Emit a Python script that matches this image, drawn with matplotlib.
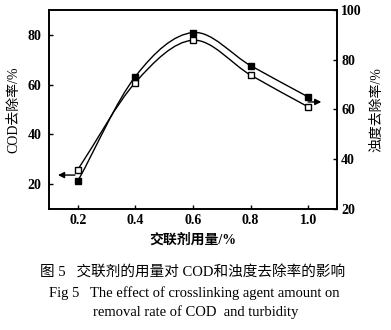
import numpy as np
import matplotlib
matplotlib.use("Agg")
import matplotlib.pyplot as plt
from matplotlib.path import Path
from matplotlib.patches import PathPatch

plt.rcParams['font.family'] = ['Liberation Serif', 'Noto Sans CJK SC', 'DejaVu Sans']

# data
dosage = [0.2, 0.4, 0.6, 0.8, 1.0]
cod_removal = [25.7, 60.8, 77.8, 63.8, 51.0]        # open squares, left axis
turbidity_removal = [31.1, 73.2, 90.9, 77.6, 65.0]  # filled squares, right axis
left_ticks = [20, 40, 60, 80]
right_ticks = [20, 40, 60, 80, 100]
x_ticks = [0.2, 0.4, 0.6, 0.8, 1.0]


def smooth_path(xs, ys):
    # Catmull-Rom through the points, written as cubic Bezier segments
    xs = np.asarray(xs, float)
    ys = np.asarray(ys, float)
    px = np.concatenate([[2 * xs[0] - xs[1]], xs, [2 * xs[-1] - xs[-2]]])
    py = np.concatenate([[2 * ys[0] - ys[1]], ys, [2 * ys[-1] - ys[-2]]])
    verts = [(xs[0], ys[0])]
    codes = [Path.MOVETO]
    for i in range(1, len(px) - 2):
        c1 = (px[i] + (px[i + 1] - px[i - 1]) / 6, py[i] + (py[i + 1] - py[i - 1]) / 6)
        c2 = (px[i + 1] - (px[i + 2] - px[i]) / 6, py[i + 1] - (py[i + 2] - py[i]) / 6)
        verts += [c1, c2, (px[i + 1], py[i + 1])]
        codes += [Path.CURVE4] * 3
    return Path(verts, codes)


fig = plt.figure(figsize=(3.91, 3.30), dpi=100)
ax = fig.add_axes([0.125, 0.367, 0.737, 0.603])
ax2 = ax.twinx()

ax.add_patch(PathPatch(smooth_path(dosage, cod_removal), fill=False, lw=1.0, ec='black'))
ax2.add_patch(PathPatch(smooth_path(dosage, turbidity_removal), fill=False, lw=1.0, ec='black'))
ax.plot(dosage, cod_removal, 's', ms=5, mfc='white', mec='black', mew=1.0, zorder=3)
ax2.plot(dosage, turbidity_removal, 's', ms=5, mfc='black', mec='black', zorder=3)

ax.annotate('', xy=(0.122, 23.6), xytext=(0.2, 23.6),
            arrowprops=dict(arrowstyle='-|>', lw=1.0, color='black', mutation_scale=9))
ax2.annotate('', xy=(1.055, 63.0), xytext=(0.99, 63.0),
             arrowprops=dict(arrowstyle='-|>', lw=1.0, color='black', mutation_scale=9))

ax.set_xlim(0.1, 1.1)
ax.set_ylim(10, 90)
ax2.set_ylim(20, 100)
ax.set_xticks(x_ticks)
ax.set_xticklabels(['%.1f' % v for v in x_ticks])
ax.set_yticks(left_ticks)
ax2.set_yticks(right_ticks)

for a in (ax, ax2):
    a.tick_params(direction='in', length=3, width=1.0, labelsize=10)
    for lab in a.get_xticklabels() + a.get_yticklabels():
        lab.set_fontweight('bold')
    for s in a.spines.values():
        s.set_linewidth(1.2)
ax.tick_params(axis='y', pad=5.5)
ax.tick_params(axis='x', pad=3.5)
ax2.tick_params(axis='y', pad=3)

ax.set_ylabel('COD去除率/%', fontsize=10, fontweight='medium', labelpad=5)
ax2.set_ylabel('浊度去除率/%', fontsize=10, fontweight='medium', labelpad=6, rotation=90)
ax.set_xlabel('交联剂用量/%', fontsize=10, fontweight='bold', labelpad=5)

fig.text(0.492, 0.173, '图 5   交联剂的用量对 COD和浊度去除率的影响', ha='center', va='center', fontsize=10.5)
fig.text(0.497, 0.112, 'Fig 5   The effect of crosslinking agent amount on', ha='center', va='center', fontsize=10.5)
fig.text(0.500, 0.055, 'removal rate of COD  and turbidity', ha='center', va='center', fontsize=10.5)

fig.savefig('out.png', dpi=100)
